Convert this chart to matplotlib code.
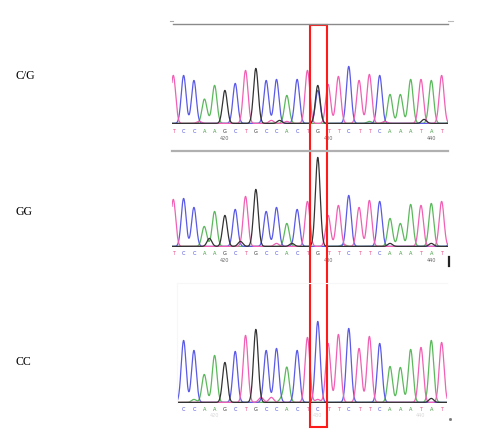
import numpy as np
import matplotlib.pyplot as plt
from matplotlib.patches import Rectangle

# ---------- data ----------
# base calls (index 0 = position 415)
calls_cg = list("TCCAAGCTGCCACTGTTCTTCAAATAT")
calls_gg = list("TCCAAGCTGCCACTGTTCTTCAAATAT")
calls_cc = list("CCAAGCTGCCACTCTTCTTCAAATAT")   # starts at index 1

# main peak heights (pixels above baseline), one per base call
peaks_cg = [48, 48, 43, 23, 38, 33, 40, 53, 55, 43, 44, 28, 44, 53, 38,
            39, 47, 57, 43, 49, 48, 29, 29, 44, 44, 43, 48]
peaks_gg = [47, 48, 39, 20, 35, 31, 37, 50, 57, 35, 39, 23, 37, 45, 89,
            31, 41, 51, 39, 46, 45, 28, 23, 42, 41, 43, 45]
peaks_cc = [62, 52, 28, 47, 40, 51, 67, 73, 52, 54, 35, 52, 65, 81,
            59, 68, 74, 54, 66, 59, 36, 35, 53, 55, 62, 60]

# extra peaks: (base, index, height) - het second peak, noise, next base off edge
extra_cg = [('C', 14, 33), ('T', 2.5, 2), ('A', 3.3, 3), ('T', 9.5, 3),
            ('G', 10.3, 3), ('T', 11, 2), ('A', 19, 2), ('G', 24.3, 4),
            ('T', 20.5, 2), ('A', 27.2, 40)]
extra_gg = [('G', 3.5, 8), ('G', 6.5, 5), ('T', 10, 3), ('G', 11.5, 3),
            ('A', 16.5, 2), ('G', 21, 3), ('G', 25, 3), ('C', 27.2, 60)]
extra_cc = [('T', 8.5, 5), ('T', 9.5, 5), ('A', 10.5, 4), ('G', 25, 4),
            ('T', 14, 3), ('A', 2, 3)]

tick_pos = [5, 15, 25]
tick_txt = ['420', '430', '440']

trace_col = {'A': '#5cb85c', 'C': '#5a5ae6', 'G': '#333333', 'T': '#f060b4'}
call_col = {'A': '#3a9a3a', 'C': '#4a4ae0', 'G': '#333333', 'T': '#e8508a'}

W, H = 487, 441
fig = plt.figure(figsize=(W / 100, H / 100), dpi=100)

# base index -> pixel: px = X0 + DX * i
X0, DX = 173.3, 10.32
SIG = 0.23


def panel(top, base, left, right, calls, heights, extra, first,
          call_y, num_y, num_col, num_pos):
    ax = fig.add_axes([left / W, 1 - base / H, (right - left) / W, (base - top) / H])
    ax.set_xlim((left - X0) / DX, (right - X0) / DX)
    ax.set_ylim(0, base - top)
    ax.axis('off')
    x = np.linspace(-1, 28, 3000)
    for b in 'ACGT':
        y = np.zeros_like(x)
        for i, (c, h) in enumerate(zip(calls, heights)):
            if c == b:
                y += h * np.exp(-(x - (i + first)) ** 2 / (2 * SIG ** 2))
        for c, i, h in extra:
            if c == b:
                y += h * np.exp(-(x - i) ** 2 / (2 * SIG ** 2))
        ax.plot(x, y + 0.6, color=trace_col[b], lw=0.9, zorder=2 if b != 'G' else 3)
    ax.axhline(0.3, color='#555555', lw=0.8, zorder=1)
    for i, c in enumerate(calls):
        ax.text(i + first, -(call_y - base), c, color=call_col[c], fontsize=3.6,
                ha='center', va='center', clip_on=False)
    for p, t in zip(num_pos, tick_txt):
        ax.text(p, -(num_y - base), t, color=num_col, fontsize=3.6,
                ha='center', va='center', clip_on=False)
    return ax


panel(24, 124, 172, 448, calls_cg, peaks_cg, extra_cg, 0, 131.5, 138.5, '#666666', tick_pos)
panel(150, 247, 172, 448, calls_gg, peaks_gg, extra_gg, 0, 253.5, 260, '#666666', tick_pos)
panel(283, 403, 177, 447, calls_cc, peaks_cc, extra_cc, 1, 409.5, 415.5, '#d8d8d8', [4, 14, 24])

# overlay in pixel coordinates for frame lines, labels and red box
ov = fig.add_axes([0, 0, 1, 1], zorder=10)
ov.set_xlim(0, W)
ov.set_ylim(H, 0)
ov.axis('off')
ov.plot([172.5, 448], [24.3, 24.3], color='#8a8a8a', lw=1.0)
ov.plot([170, 173], [21, 21], color='#aaaaaa', lw=0.8)
ov.plot([448, 453], [21, 21], color='#bbbbbb', lw=0.8)
ov.plot([172, 448], [150.5, 150.5], color='#b0b0b0', lw=1.6)
ov.plot([448.5, 448.5], [257, 265.5], color='#222222', lw=1.6)
ov.plot([450], [419], marker='s', ms=1, color='#777777')
ov.plot([177, 177, 447], [403, 283, 283], color='#f7f7f7', lw=0.8)

for txt, yy in [('C/G', 76), ('GG', 212), ('CC', 362)]:
    ov.text(16, yy, txt, fontsize=8.5, family='Liberation Serif', ha='left', va='center')

ov.add_patch(Rectangle((309.5, 24.5), 17, 402, fill=False, edgecolor='#ff1a1a', lw=1.5))

fig.savefig('out.png', dpi=100)
